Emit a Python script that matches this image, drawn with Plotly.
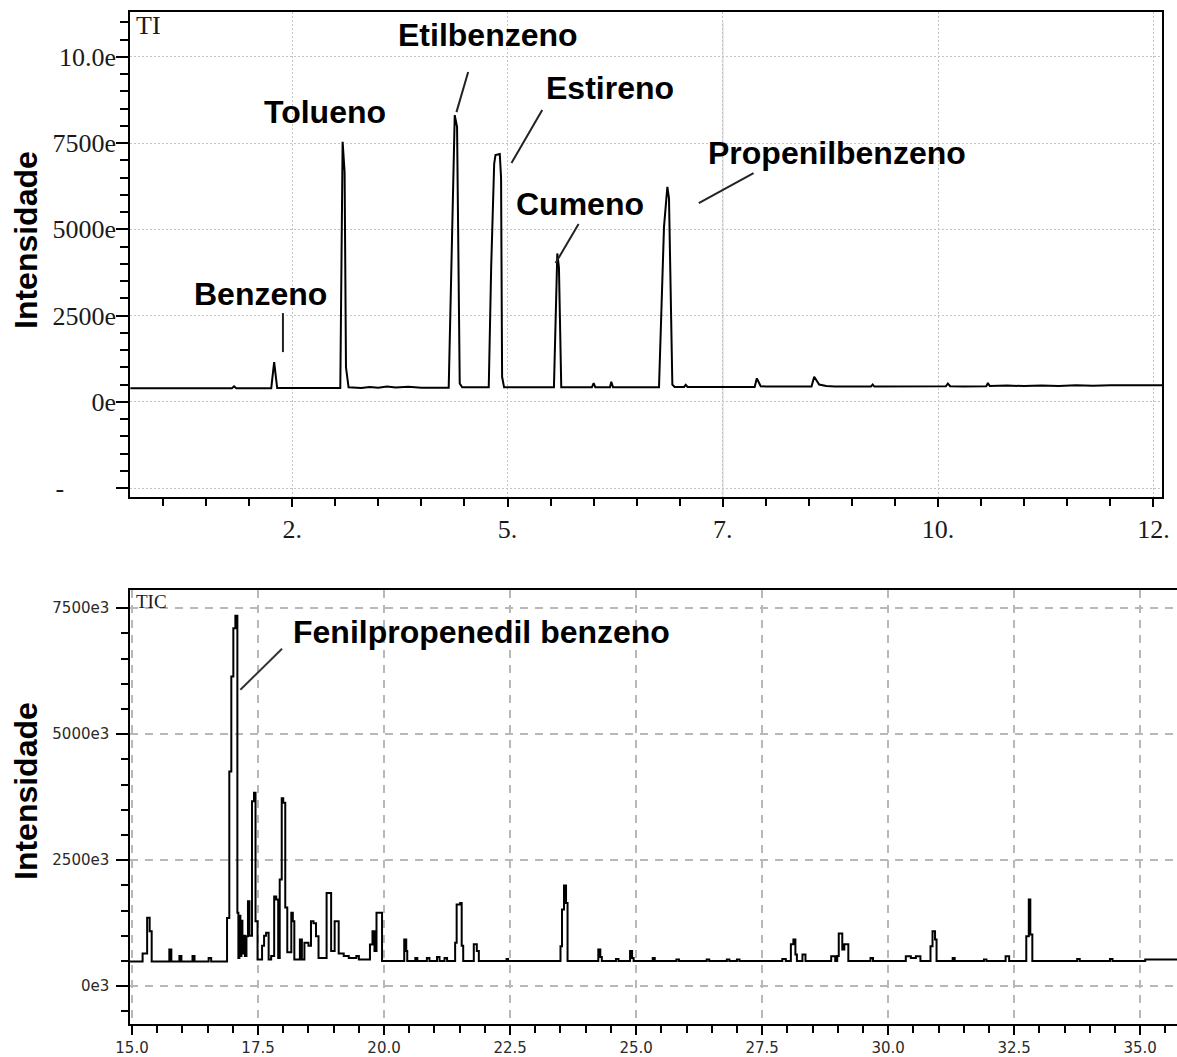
import plotly.graph_objects as go

# ---------------- data: upper chromatogram (time, intensity in thousands) -------------
top_time = [
    0.62, 1.80, 1.825, 1.85, 2.256, 2.29, 2.325,
    3.058, 3.085, 3.108, 3.124, 3.154, 3.30, 3.40, 3.50, 3.60, 3.70, 3.85, 4.00, 4.20,
    4.317, 4.387, 4.414, 4.445, 4.473,
    4.782, 4.81, 4.845, 4.86, 4.91, 4.925, 4.937, 4.96,
    5.539, 5.578, 5.597, 5.624,
    5.98, 6.00, 6.02, 6.19, 6.205, 6.225,
    6.759, 6.817, 6.856, 6.875, 6.914, 6.94,
    7.05, 7.07, 7.09, 7.87, 7.895, 7.94, 8.0,
    8.53, 8.561, 8.619, 8.70, 8.80, 9.22, 9.24, 9.26,
    10.09, 10.113, 10.14, 10.29, 10.56, 10.578, 10.60,
    10.8, 11.0, 11.2, 11.4, 11.6, 11.8, 12.0, 12.3, 12.613,
]
top_intensity = [
    390, 390, 450, 395, 395, 1150, 400,
    400, 7540, 6670, 1000, 420, 400, 430, 410, 440, 415, 435, 410, 420,
    410, 8310, 7970, 530, 420,
    420, 3900, 6900, 7150, 7180, 6500, 725, 420,
    420, 4300, 3900, 420,
    420, 540, 420, 420, 580, 420,
    420, 5070, 6230, 5900, 500, 430,
    430, 490, 430, 430, 680, 450, 440,
    440, 725, 500, 460, 440, 440, 500, 440,
    450, 530, 450, 440, 450, 545, 460,
    470, 455, 475, 460, 480, 465, 480, 470, 480,
]

# ---------------- data: lower chromatogram (stepped) -------------
bottom_time = [
    14.96, 15.21, 15.30, 15.35, 15.39, 15.74, 15.78, 15.94, 15.98, 16.20, 16.24, 16.52, 16.57,
    16.885, 16.93, 16.97, 17.01, 17.05, 17.09, 17.11, 17.13, 17.15, 17.17, 17.19, 17.21, 17.24,
    17.27, 17.30, 17.33, 17.38, 17.42, 17.45, 17.49, 17.58, 17.62, 17.66, 17.71, 17.76,
    17.82, 17.86, 17.90, 17.93, 17.97, 18.00, 18.04, 18.08, 18.16, 18.19, 18.22,
    18.33, 18.37, 18.42, 18.50, 18.55, 18.60, 18.65, 18.70, 18.86, 18.95, 19.02, 19.10,
    19.20, 19.30, 19.45, 19.50, 19.72, 19.77, 19.81, 19.85, 19.96,
    20.40, 20.44, 20.46, 20.62, 20.66, 20.85, 20.90, 21.05, 21.10, 21.20, 21.25,
    21.41, 21.44, 21.51, 21.54, 21.57, 21.78, 21.84, 21.88, 22.43, 22.46,
    23.50, 23.53, 23.57, 23.61, 23.64, 24.25, 24.29, 24.32, 24.60, 24.65,
    24.88, 24.92, 24.95, 25.33, 25.37, 25.80, 25.85, 26.40, 26.45, 26.80, 26.85, 27.00, 27.05,
    27.90, 27.97, 28.07, 28.12, 28.16, 28.19, 28.30, 28.36,
    28.87, 28.95, 28.99, 29.02, 29.09, 29.13, 29.21, 29.65, 29.70,
    30.35, 30.45, 30.55, 30.64, 30.84, 30.88, 30.93, 30.96,
    31.28, 31.32, 31.90, 31.95, 32.33, 32.40,
    32.74, 32.79, 32.82, 32.86, 33.75, 33.80, 34.40, 34.45, 35.10, 35.75,
]
bottom_intensity = [
    490, 650, 1360, 1090, 490, 730, 490, 600, 490, 600, 490, 560, 490,
    1355, 4260, 6145, 7100, 7350, 1455, 560, 1400, 600, 1300, 650, 1000, 600,
    990, 1685, 1000, 3670, 3840, 1290, 530, 800, 1000, 1060, 530, 600,
    1780, 1720, 560, 2115, 3730, 3640, 1560, 675, 1455, 1290, 530,
    925, 530, 860, 800, 1290, 1250, 990, 560, 1850, 700, 1290, 650,
    600, 560, 600, 530, 826, 1090, 700, 1455, 500,
    925, 700, 500, 560, 500, 560, 500, 580, 500, 560, 500,
    860, 1620, 1650, 800, 500, 830, 700, 500, 540, 500,
    790, 1520, 2000, 1650, 500, 730, 580, 500, 540, 500,
    700, 560, 500, 560, 500, 530, 500, 530, 500, 530, 500, 530, 500,
    540, 500, 830, 925, 630, 500, 630, 500,
    595, 500, 600, 1045, 730, 830, 500, 560, 500,
    595, 560, 595, 500, 790, 1090, 925, 500,
    560, 500, 530, 500, 595, 500,
    990, 1720, 1025, 500, 540, 500, 540, 500, 530, 530,
]

# ---------------- tick labels -------------
top_x_ticks = [2.5, 5.0, 7.5, 10.0, 12.5]
top_x_labels = ["2.", "5.", "7.", "10.", "12."]
top_y_ticks = [-2500, 0, 2500, 5000, 7500, 10000]
top_y_labels = ["-" + "\u00a0" * 8, "0e", "2500e", "5000e", "7500e", "10.0e"]
bottom_x_ticks = [15.0, 17.5, 20.0, 22.5, 25.0, 27.5, 30.0, 32.5, 35.0]
bottom_x_labels = ["15.0", "17.5", "20.0", "22.5", "25.0", "27.5", "30.0", "32.5", "35.0"]
bottom_y_ticks = [0, 2500, 5000, 7500]
bottom_y_labels = ["0e3", "2500e3", "5000e3", "7500e3"]

# ---------------- compound labels -------------
top_names = ["Benzeno", "Tolueno", "Etilbenzeno", "Estireno", "Cumeno", "Propenilbenzeno"]
bottom_names = ["Fenilpropenedil benzeno"]

# label placement (data coords) and leader lines (data coords)
top_label_pos = [(2.13, 3120), (2.88, 8400), (4.77, 10630), (6.19, 9090), (5.84, 5730), (8.83, 7210)]
top_leaders = [(2.392, 2571, 2.392, 1441), (4.543, 9558, 4.407, 8398), (5.403, 8456, 5.046, 6920),
               (5.825, 5151, 5.558, 4021), (7.857, 6630, 7.221, 5760)]
bottom_label_pos = [(21.93, 7030)]
bottom_leaders = [(17.976, 6693, 17.149, 5881)]

W, H = 1177, 1057
SERIF = "Liberation Serif"
SANS = "DejaVu Sans"
BOLD = "Liberation Sans"

fig = go.Figure()
fig.add_trace(go.Scatter(x=top_time, y=top_intensity, mode="lines",
                         line=dict(color="black", width=2), xaxis="x", yaxis="y",
                         showlegend=False, hoverinfo="skip"))
fig.add_trace(go.Scatter(x=bottom_time, y=bottom_intensity, mode="lines",
                         line=dict(color="black", width=2, shape="hv"), xaxis="x2", yaxis="y2",
                         showlegend=False, hoverinfo="skip"))

xd_top = [130 / W, 1162 / W]
yd_top = [1 - 497 / H, 1 - 12 / H]
xd_bot = [130 / W, 1.0]
yd_bot = [1 - 1024 / H, 1 - 590 / H]

common_axis = dict(showline=True, linecolor="black", linewidth=1.5,
                   zeroline=False, ticks="outside", tickcolor="black", tickwidth=1.5,
                   automargin=False)

fig.update_layout(
    width=W, height=H, autosize=False,
    margin=dict(l=0, r=0, t=0, b=0, pad=0),
    paper_bgcolor="white", plot_bgcolor="white",
    xaxis=dict(domain=xd_top, anchor="y", range=[0.616, 12.6], mirror=True,
               tickmode="array", tickvals=top_x_ticks, ticktext=top_x_labels, ticklen=8,
               tickfont=dict(family=SERIF, size=26, color="#1a1a1a"),
               showgrid=True, gridcolor="#c4c4c4", gridwidth=1, griddash="2px,2px",
               minor=dict(tickmode="linear", tick0=0, dtick=0.5, ticks="outside", ticklen=7,
                          tickcolor="black", tickwidth=1.5, showgrid=False),
               **common_axis),
    yaxis=dict(domain=yd_top, anchor="x", range=[-2760, 11300], mirror=True,
               tickmode="array", tickvals=top_y_ticks, ticktext=top_y_labels, ticklen=12,
               ticklabelstandoff=-5,
               tickfont=dict(family=SERIF, size=26, color="#1a1a1a"),
               showgrid=True, gridcolor="#c4c4c4", gridwidth=1, griddash="2px,2px",
               minor=dict(tickmode="linear", tick0=0, dtick=500, ticks="outside", ticklen=8,
                          tickcolor="black", tickwidth=1.5, showgrid=False),
               **common_axis),
    xaxis2=dict(domain=xd_bot, anchor="y2", range=[14.96, 35.73], mirror=True,
                tickmode="array", tickvals=bottom_x_ticks, ticktext=bottom_x_labels, ticklen=9,
                tickfont=dict(family=SANS, size=15, color="#2a2a2a"),
                showgrid=True, gridcolor="#b8b8b8", gridwidth=1.5, griddash="8px,7px",
                minor=dict(tickmode="linear", tick0=0, dtick=0.5, ticks="outside", ticklen=7,
                           tickcolor="black", tickwidth=1.5, showgrid=False),
                **common_axis),
    yaxis2=dict(domain=yd_bot, anchor="x2", range=[-750, 7860], mirror=False,
                tickmode="array", tickvals=bottom_y_ticks, ticktext=bottom_y_labels, ticklen=12,
                ticklabelstandoff=4,
                tickfont=dict(family=SANS, size=15, color="#2a2a2a"),
                showgrid=True, gridcolor="#b8b8b8", gridwidth=1.5, griddash="8px,7px",
                minor=dict(tickmode="linear", tick0=0, dtick=500, ticks="outside", ticklen=7,
                           tickcolor="black", tickwidth=1.5, showgrid=False),
                **common_axis),
)

annotations = []
for name, (x, y) in zip(top_names, top_label_pos):
    annotations.append(dict(text=f"<b>{name}</b>", x=x, y=y, xref="x", yref="y",
                            showarrow=False, xanchor="center", yanchor="middle",
                            font=dict(family=BOLD, size=32, color="black")))
for name, (x, y) in zip(bottom_names, bottom_label_pos):
    annotations.append(dict(text=f"<b>{name}</b>", x=x, y=y, xref="x2", yref="y2",
                            showarrow=False, xanchor="center", yanchor="middle",
                            font=dict(family=BOLD, size=32, color="black")))
# inner corner labels
annotations.append(dict(text="TI", x=0.004, y=0.972, xref="x domain", yref="y domain",
                        showarrow=False, xanchor="left", yanchor="middle",
                        font=dict(family=SERIF, size=26, color="#1a1a1a")))
annotations.append(dict(text="TIC", x=0.004, y=0.973, xref="x2 domain", yref="y2 domain",
                        showarrow=False, xanchor="left", yanchor="middle",
                        font=dict(family=SERIF, size=19, color="#1a1a1a")))
# y-axis titles
for yc in (1 - 240 / H, 1 - 791 / H):
    annotations.append(dict(text="<b>Intensidade</b>", x=26 / W, y=yc, xref="paper", yref="paper",
                            showarrow=False, textangle=-90, xanchor="center", yanchor="middle",
                            font=dict(family=BOLD, size=32, color="black")))
fig.update_layout(annotations=annotations)

shapes = [
    # the 7.5 min grid line of the upper panel is drawn solid and light
    dict(type="line", x0=7.5, x1=7.5, y0=0.0, y1=0.98, xref="x", yref="y domain",
         layer="below", line=dict(color="#e6e6e6", width=2)),
]
for (x0, y0, x1, y1) in top_leaders:
    shapes.append(dict(type="line", x0=x0, y0=y0, x1=x1, y1=y1, xref="x", yref="y",
                       line=dict(color="#222222", width=2)))
for (x0, y0, x1, y1) in bottom_leaders:
    shapes.append(dict(type="line", x0=x0, y0=y0, x1=x1, y1=y1, xref="x2", yref="y2",
                       line=dict(color="#333333", width=2)))
fig.update_layout(shapes=shapes)

fig.write_html("out.html")
